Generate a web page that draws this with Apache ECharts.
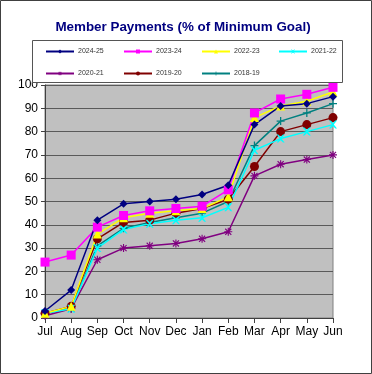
<!DOCTYPE html>
<html><head><meta charset="utf-8">
<script src="https://cdn.jsdelivr.net/npm/echarts@6/dist/echarts.min.js"></script>
<style>html,body{margin:0;padding:0;background:#fff}#c{width:372px;height:374px}</style>
</head><body><div id="c"></div>
<script>
var months = ['Jul','Aug','Sep','Oct','Nov','Dec','Jan','Feb','Mar','Apr','May','Jun'];
var s2024_25 = [3,12,42,49,50,51,53,57,83,91,92,95];
var s2023_24 = [24,27,39,44,46,47,48,55,88,94,96,99];
var s2022_23 = [2,5,36,43,45,46,47,52,86,91,93,97];
var s2021_22 = [2,4,30,38,40.5,42,43,47.5,72,77,80,83];
var s2020_21 = [1,4,25,30,31,32,34,37,61,66,68,70];
var s2019_20 = [2,5,34,41,42,45,47,51,65,80,83,86];
var s2018_19 = [2,4,31,38.5,41,43,45,50,74,84.5,88,92];
var yTicks = [0,10,20,30,40,50,60,70,80,90,100];

var X_PATH = 'path://M0,0 L2,0 L5,3 L8,0 L10,0 L6,5 L10,10 L8,10 L5,7 L2,10 L0,10 L4,5 Z';
var AST_PATH = 'path://M4.3,0 H5.7 V3.3 L8.3,0.7 L9.3,1.7 L6.7,4.3 H10 V5.7 H6.7 L9.3,8.3 L8.3,9.3 L5.7,6.7 V10 H4.3 V6.7 L1.7,9.3 L0.7,8.3 L3.3,5.7 H0 V4.3 H3.3 L0.7,1.7 L1.7,0.7 L4.3,3.3 Z';
var PLUS_PATH = 'path://M4.2,0 H5.8 V4.2 H10 V5.8 H5.8 V10 H4.2 V5.8 H0 V4.2 H4.2 Z';

var defs = [
  {name:'2024-25', data:s2024_25, color:'#000080', symbol:'diamond', size:8},
  {name:'2023-24', data:s2023_24, color:'#FF00FF', symbol:'rect', size:9},
  {name:'2022-23', data:s2022_23, color:'#FFFF00', symbol:'triangle', size:9},
  {name:'2021-22', data:s2021_22, color:'#00FFFF', symbol:X_PATH, size:8},
  {name:'2020-21', data:s2020_21, color:'#800080', symbol:AST_PATH, size:8},
  {name:'2019-20', data:s2019_20, color:'#800000', symbol:'circle', size:9},
  {name:'2018-19', data:s2018_19, color:'#008080', symbol:PLUS_PATH, size:8}
];
var series = defs.slice().reverse().map(function(d){
  return {name:d.name, type:'line', data:d.data, symbol:d.symbol, symbolSize:d.size,
    showAllSymbol:true, animation:false,
    lineStyle:{color:d.color, width:1.5}, itemStyle:{color:d.color, borderWidth:0}};
});
var legPos = [[45,48],[123,48],[201,48],[278,48],[45,70],[123,70],[201,70]];
var legends = defs.map(function(d,i){
  return {data:[d.name], left:legPos[i][0], top:legPos[i][1], itemWidth:28, itemHeight:5, itemGap:0,
    z:30, textStyle:{fontSize:7, fontFamily:'Liberation Sans, Arial', color:'#333', padding:[0,0,0,-1]},
    selectedMode:false, padding:0};
});

var chart = echarts.init(document.getElementById('c'), null, {renderer:'canvas'});
chart.setOption({
  backgroundColor:'#fff',
  animation:false,
  title:{text:'Member Payments (% of Minimum Goal)', left:178, textAlign:'center', top:16,
    textStyle:{fontFamily:'Liberation Sans, Arial', fontWeight:'bold', fontSize:13.4, color:'#000080'}},
  legend:legends,
  grid:{left:45, right:39, top:85, bottom:56, show:true, backgroundColor:'#C0C0C0', borderColor:'#808080', borderWidth:1},
  xAxis:{type:'category', data:months, boundaryGap:false,
    axisLine:{lineStyle:{color:'#404040', width:1}},
    axisTick:{show:true, alignWithLabel:true, length:5, lineStyle:{color:'#404040'}},
    axisLabel:{color:'#000', fontSize:12, fontFamily:'Liberation Sans, Arial', margin:8, interval:0},
    splitLine:{show:false}},
  yAxis:{type:'value', min:0, max:100, interval:10,
    axisLine:{show:true, lineStyle:{color:'#404040', width:1}},
    axisTick:{show:true, length:4, lineStyle:{color:'#404040'}},
    axisLabel:{color:'#000', fontSize:12, fontFamily:'Liberation Sans, Arial', margin:7},
    splitLine:{show:true, lineStyle:{color:'#5a5a5a', width:1.2}}},
  graphic:[
    {type:'rect', shape:{x:0.5, y:0.5, width:371, height:373}, style:{fill:'none', stroke:'#404040', lineWidth:1}, z:100, silent:true},
    {type:'rect', shape:{x:32.5, y:40.5, width:310, height:42}, style:{fill:'#fff', stroke:'#555', lineWidth:1}, z:10, silent:true}
  ],
  series:series
});
</script></body></html>
